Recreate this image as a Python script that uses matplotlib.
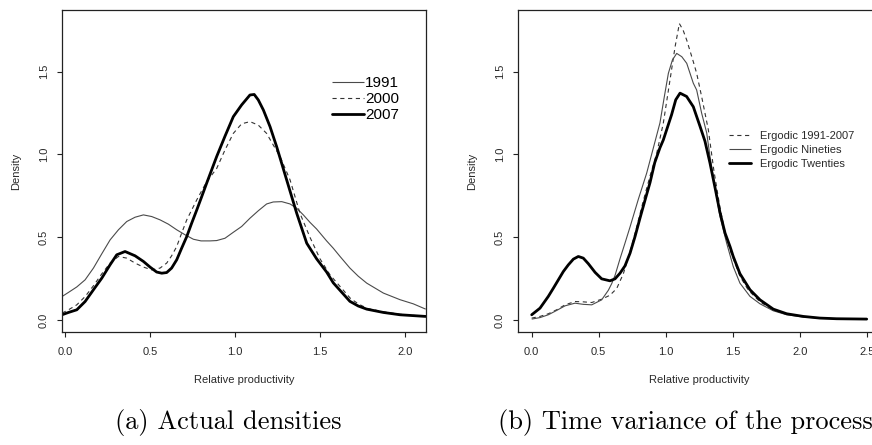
import matplotlib
matplotlib.use("Agg")
import matplotlib.pyplot as plt
from matplotlib.lines import Line2D

plt.rcParams['font.family'] = ['Liberation Sans', 'DejaVu Sans']
plt.rcParams['lines.scale_dashes'] = False

# ---------------- Panel (a): actual densities ----------------
x_1991 = [-0.018, 0.02, 0.069, 0.118, 0.167, 0.216, 0.265, 0.314, 0.363, 0.412, 0.461, 0.51,
          0.559, 0.608, 0.657, 0.706, 0.755, 0.80, 0.853, 0.892, 0.941, 0.99, 1.039, 1.088,
          1.137, 1.186, 1.225, 1.275, 1.324, 1.363, 1.402, 1.441, 1.48, 1.539, 1.578, 1.618,
          1.676, 1.725, 1.775, 1.873, 1.971, 2.049, 2.122]
y_1991 = [0.142, 0.167, 0.2, 0.243, 0.314, 0.40, 0.484, 0.545, 0.595, 0.621, 0.635, 0.625,
          0.605, 0.579, 0.545, 0.515, 0.488, 0.478, 0.478, 0.48, 0.494, 0.53, 0.565, 0.615,
          0.66, 0.701, 0.713, 0.715, 0.701, 0.675, 0.635, 0.59, 0.55, 0.478, 0.434, 0.384,
          0.314, 0.265, 0.223, 0.163, 0.123, 0.098, 0.066]

x_2000 = [-0.018, 0.02, 0.069, 0.118, 0.167, 0.216, 0.265, 0.314, 0.363, 0.412, 0.461, 0.51,
          0.559, 0.598, 0.627, 0.657, 0.686, 0.716, 0.775, 0.833, 0.892, 0.941, 0.99, 1.039,
          1.088, 1.137, 1.186, 1.225, 1.265, 1.324, 1.382, 1.441, 1.5, 1.559, 1.618, 1.68,
          1.73, 1.78, 1.873, 1.971, 2.122]
y_2000 = [0.042, 0.062, 0.092, 0.142, 0.207, 0.279, 0.344, 0.384, 0.374, 0.344, 0.32, 0.303,
          0.314, 0.344, 0.388, 0.444, 0.525, 0.605, 0.726, 0.835, 0.915, 1.027, 1.127, 1.185,
          1.198, 1.177, 1.127, 1.057, 0.987, 0.846, 0.645, 0.50, 0.37, 0.273, 0.203, 0.13,
          0.095, 0.07, 0.05, 0.035, 0.022]

x_2007 = [-0.018, 0.02, 0.069, 0.118, 0.167, 0.216, 0.265, 0.304, 0.353, 0.412, 0.461, 0.5,
          0.539, 0.569, 0.598, 0.627, 0.657, 0.686, 0.716, 0.745, 0.775, 0.804, 0.833, 0.892,
          0.941, 0.99, 1.039, 1.088, 1.113, 1.137, 1.167, 1.206, 1.245, 1.304, 1.363, 1.422,
          1.48, 1.539, 1.578, 1.676, 1.725, 1.775, 1.873, 1.971, 2.122]
y_2007 = [0.032, 0.046, 0.062, 0.112, 0.183, 0.253, 0.334, 0.394, 0.414, 0.388, 0.354, 0.32,
          0.29, 0.283, 0.287, 0.314, 0.364, 0.434, 0.504, 0.585, 0.665, 0.745, 0.826, 0.987,
          1.11, 1.228, 1.299, 1.359, 1.362, 1.329, 1.268, 1.168, 1.047, 0.846, 0.645, 0.464,
          0.37, 0.29, 0.225, 0.113, 0.085, 0.066, 0.046, 0.032, 0.022]

# ---------------- Panel (b): ergodic densities ----------------
x_erg_all = [0.0, 0.062, 0.124, 0.186, 0.249, 0.323, 0.385, 0.448, 0.522, 0.584, 0.634, 0.684,
             0.733, 0.783, 0.833, 0.883, 0.933, 0.982, 1.032, 1.07, 1.102, 1.13, 1.157, 1.206,
             1.231, 1.268, 1.318, 1.36, 1.405, 1.443, 1.48, 1.555, 1.617, 1.704, 1.803, 1.903,
             2.027, 2.2, 2.5]
y_erg_all = [0.012, 0.022, 0.038, 0.062, 0.092, 0.112, 0.11, 0.106, 0.126, 0.15, 0.19, 0.28,
             0.41, 0.56, 0.72, 0.87, 1.007, 1.188, 1.449, 1.65, 1.79, 1.75, 1.69, 1.56,
             1.49, 1.35, 1.15, 0.9, 0.68, 0.53, 0.424, 0.263, 0.18, 0.11, 0.06, 0.035,
             0.02, 0.01, 0.005]

x_erg_90 = [0.0, 0.062, 0.124, 0.186, 0.249, 0.323, 0.385, 0.448, 0.522, 0.572, 0.597, 0.622,
            0.659, 0.696, 0.733, 0.796, 0.858, 0.908, 0.957, 0.99, 1.02, 1.05, 1.082, 1.12,
            1.157, 1.206, 1.231, 1.268, 1.306, 1.33, 1.368, 1.405, 1.455, 1.504, 1.554, 1.629,
            1.704, 1.803, 1.903, 2.027, 2.2, 2.5]
y_erg_90 = [0.006, 0.015, 0.032, 0.058, 0.086, 0.102, 0.095, 0.092, 0.122, 0.18, 0.22, 0.27,
            0.37, 0.464, 0.56, 0.73, 0.887, 1.04, 1.19, 1.35, 1.49, 1.57, 1.61, 1.59,
            1.55, 1.43, 1.389, 1.25, 1.13, 0.99, 0.8, 0.625, 0.464, 0.323, 0.223, 0.143,
            0.098, 0.056, 0.032, 0.018, 0.01, 0.005]

x_erg_00 = [0.0, 0.062, 0.124, 0.162, 0.199, 0.236, 0.273, 0.311, 0.348, 0.385, 0.423, 0.473,
            0.522, 0.584, 0.622, 0.659, 0.696, 0.734, 0.771, 0.808, 0.846, 0.883, 0.918, 0.957,
            0.982, 1.044, 1.075, 1.107, 1.156, 1.206, 1.256, 1.293, 1.33, 1.368, 1.405, 1.443,
            1.48, 1.504, 1.554, 1.629, 1.704, 1.803, 1.903, 2.027, 2.151, 2.276, 2.5]
y_erg_00 = [0.032, 0.072, 0.143, 0.193, 0.243, 0.293, 0.333, 0.368, 0.384, 0.374, 0.34, 0.288,
            0.249, 0.237, 0.249, 0.283, 0.327, 0.404, 0.504, 0.615, 0.725, 0.83, 0.95, 1.04,
            1.087, 1.24, 1.33, 1.37, 1.35, 1.288, 1.17, 1.08, 0.95, 0.8, 0.65, 0.525,
            0.444, 0.384, 0.28, 0.183, 0.122, 0.066, 0.038, 0.022, 0.012, 0.008, 0.006]

labels_a = ["1991", "2000", "2007"]
labels_b = ["Ergodic 1991-2007", "Ergodic Nineties", "Ergodic Twenties"]
xticks_a = [0.0, 0.5, 1.0, 1.5, 2.0]
xticks_b = [0.0, 0.5, 1.0, 1.5, 2.0, 2.5]
yticks = [0.0, 0.5, 1.0, 1.5]
captions = ["(a) Actual densities", "(b) Time variance of the process"]

W, H = 872, 445
fig = plt.figure(figsize=(W / 100, H / 100), dpi=100)

def px_axes(left, right, top, bottom):
    return fig.add_axes([left / W, 1 - bottom / H, (right - left) / W, (bottom - top) / H])

ax1 = px_axes(62, 425.7, 10, 332)
ax2 = px_axes(518.3, 880.1, 10, 332)

TXT = '#2a2a2a'
thin = dict(color='#4a4a4a', lw=0.8, solid_capstyle='butt')
dash = dict(color='#333333', lw=0.8, linestyle=(0, (3.0, 2.6)))
thick = dict(color='black', lw=2.0, solid_capstyle='round', solid_joinstyle='round')

ax1.plot(x_1991, y_1991, **thin)
ax1.plot(x_2000, y_2000, **dash)
ax1.plot(x_2007, y_2007, **thick)
ax1.set_xlim(-0.018, 2.122)
ax1.set_xticks(xticks_a)

ax2.plot(x_erg_all, y_erg_all, **dash)
ax2.plot(x_erg_90, y_erg_90, **thin)
ax2.plot(x_erg_00, y_erg_00, **thick)
ax2.set_xlim(-0.1, 2.6)
ax2.set_xticks(xticks_b)

for ax in (ax1, ax2):
    ax.set_ylim(-0.072, 1.872)
    ax.set_yticks(yticks)
    ax.set_xticklabels([f"{v:.1f}" for v in ax.get_xticks()])
    ax.set_yticklabels([f"{v:.1f}" for v in yticks], rotation=90, va='center')
    ax.tick_params(direction='out', length=3.6, width=0.8, colors='#222222',
                   labelsize=8, labelcolor=TXT)
    ax.tick_params(axis='x', pad=7.5)
    ax.tick_params(axis='y', pad=6)
    for s in ax.spines.values():
        s.set_linewidth(0.9)
        s.set_color('#222222')
    ax.set_xlabel("Relative productivity", fontsize=8, color=TXT)
    ax.set_ylabel("Density", fontsize=8, color=TXT)
    ax.xaxis.set_label_coords(0.5, -0.135)
    ax.yaxis.set_label_coords(-0.113, 0.5)

h_a = [Line2D([], [], **thin), Line2D([], [], **dash), Line2D([], [], **thick)]
ax1.legend(h_a, labels_a, loc='upper left', bbox_to_anchor=(0.7415, 0.795), frameon=False,
           fontsize=11, handlelength=2.1, handletextpad=0.07, labelspacing=0.14,
           borderpad=0, borderaxespad=0, labelcolor='black')

h_b = [Line2D([], [], **dash), Line2D([], [], **thin), Line2D([], [], **thick)]
ax2.legend(h_b, labels_b, loc='upper left', bbox_to_anchor=(0.583, 0.625), frameon=False,
           fontsize=8, handlelength=2.0, handletextpad=0.75, labelspacing=0.35,
           borderpad=0, borderaxespad=0, labelcolor=TXT)

fig.text(115 / W, 1 - 422 / H, captions[0], family=['cmr10', 'DejaVu Serif'], fontsize=19.0,
         ha='left', va='center', color='black')
fig.text(498 / W, 1 - 422 / H, captions[1], family=['cmr10', 'DejaVu Serif'], fontsize=19.0,
         ha='left', va='center', color='black')

fig.savefig("out.png", dpi=100)
